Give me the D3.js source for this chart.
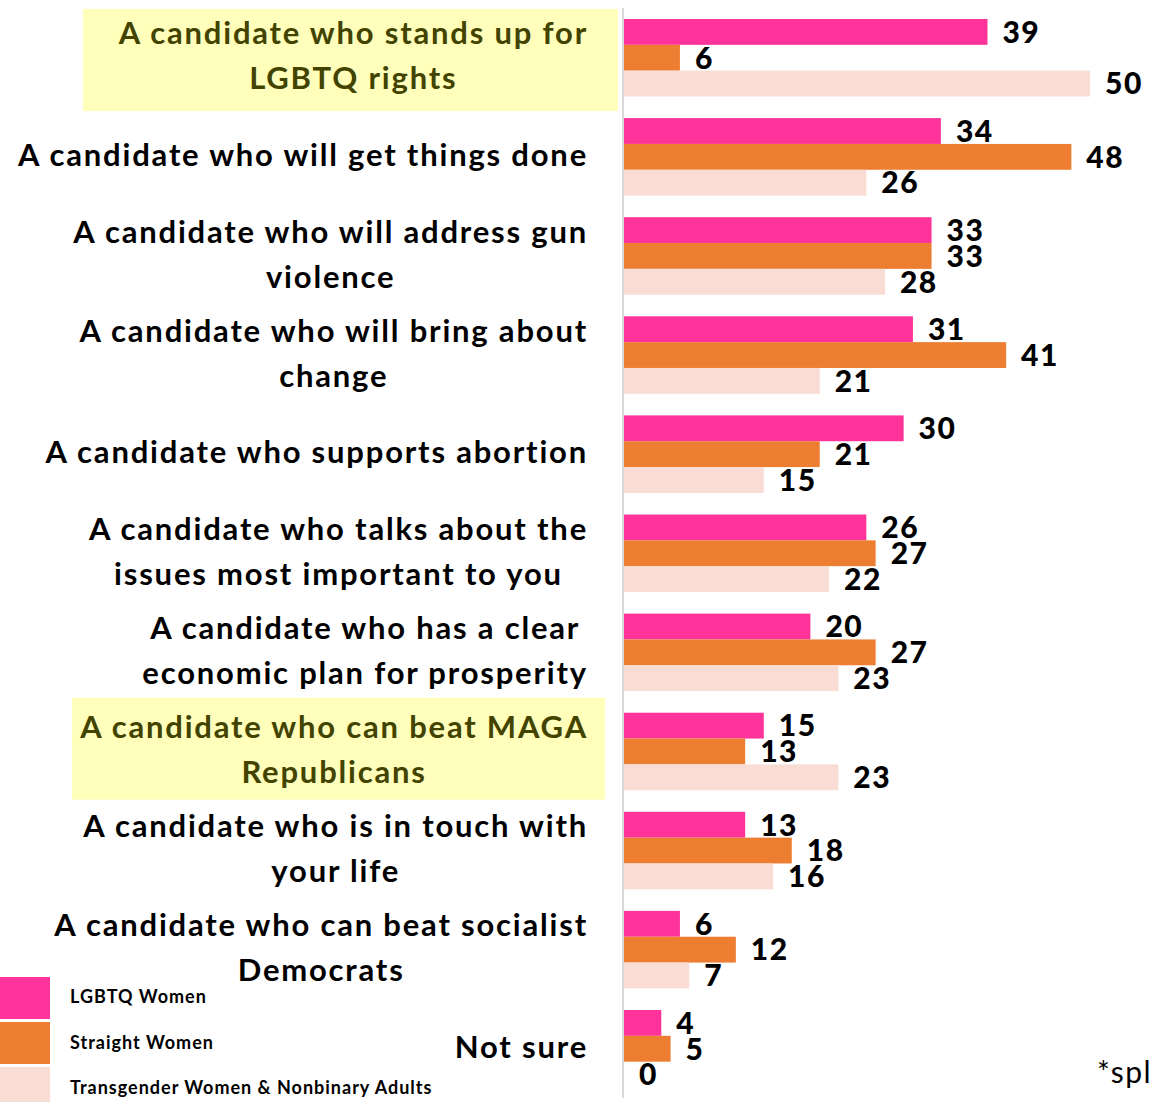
<!DOCTYPE html>
<html>
<head>
<meta charset="utf-8">
<script src="https://cdn.jsdelivr.net/npm/d3@7"></script>
<style>
  body { margin: 0; background: #fff; }
  svg { display: block; }
  text { font-family: Lato, "Open Sans", sans-serif; }
</style>
</head>
<body>
<div id="chart"></div>
<script>
// categories, each split in the lines as shown
const categories = [
  ["A candidate who stands up for", "LGBTQ rights"],
  ["A candidate who will get things done"],
  ["A candidate who will address gun", "violence"],
  ["A candidate who will bring about", "change"],
  ["A candidate who supports abortion"],
  ["A candidate who talks about the", "issues most important to you"],
  ["A candidate who has a clear", "economic plan for prosperity"],
  ["A candidate who can beat MAGA", "Republicans"],
  ["A candidate who is in touch with", "your life"],
  ["A candidate who can beat socialist", "Democrats"],
  ["Not sure"]
];
const highlighted = [0, 7];

const seriesNames = ["LGBTQ Women", "Straight Women", "Transgender Women & Nonbinary Adults"];
const seriesColors = ["#ff3399", "#ed7d31", "#f9dcd4"];

const lgbtqWomen    = [39, 34, 33, 31, 30, 26, 20, 15, 13, 6, 4];
const straightWomen = [6, 48, 33, 41, 21, 27, 27, 13, 18, 12, 5];
const transNonbin   = [50, 26, 28, 21, 15, 22, 23, 23, 16, 7, 0];
const seriesValues = [lgbtqWomen, straightWomen, transNonbin];

const footnote = "*split sample";

const width = 1153, height = 1102;

const svg = d3.select("#chart").append("svg")
  .attr("width", width)
  .attr("height", height);

const idx = d3.range(categories.length);

const x = d3.scaleLinear().domain([0, 50]).range([624, 1090]);
const y = d3.scaleBand().domain(idx).range([19, 1087.5]).paddingInner(0.218).paddingOuter(0);
const ys = d3.scaleBand().domain(d3.range(3)).range([0, y.bandwidth()]);

// highlight boxes behind two labels
const boxes = { 0: [83, 618], 7: [72, 605] };
highlighted.forEach(i => {
  svg.append("rect")
    .attr("x", boxes[i][0])
    .attr("y", y(i) - (i === 0 ? 10 : 15))
    .attr("width", boxes[i][1] - boxes[i][0])
    .attr("height", 102)
    .attr("fill", "#ffffbb");
});

// axis line
svg.append("line")
  .attr("x1", x(0) - 1).attr("x2", x(0) - 1)
  .attr("y1", 8).attr("y2", 1098)
  .attr("stroke", "#d9d9d9")
  .attr("stroke-width", 2);

// bars
const groups = svg.selectAll("g.grp")
  .data(idx)
  .join("g")
  .attr("class", "grp")
  .attr("transform", i => `translate(0,${y(i)})`);

groups.selectAll("rect")
  .data(i => seriesValues.map((s, k) => ({ k, v: s[i] })))
  .join("rect")
  .attr("x", x(0))
  .attr("y", d => ys(d.k))
  .attr("width", d => x(d.v) - x(0))
  .attr("height", ys.bandwidth())
  .attr("fill", d => seriesColors[d.k]);

groups.selectAll("text.val")
  .data(i => seriesValues.map((s, k) => ({ k, v: s[i] })))
  .join("text")
  .attr("class", "val")
  .attr("x", d => x(d.v) + 15)
  .attr("y", d => ys(d.k) + ys.bandwidth() / 2)
  .attr("dy", "0.36em")
  .attr("font-size", 30)
  .attr("font-weight", 900)
  .attr("letter-spacing", 1.5)
  .attr("fill", "#000")
  .text(d => d.v);

// category labels: block right-aligned, lines centred within it
const labelRight = 588, lineH = 45;
idx.forEach(i => {
  const lines = categories[i];
  const g = svg.append("g");
  const cy = y(i) + y.bandwidth() / 2 - 2;
  const t = g.selectAll("text")
    .data(lines)
    .join("text")
    .attr("font-size", 31)
    .attr("font-weight", "bold")
    .attr("letter-spacing", 1.8)
    .attr("fill", highlighted.includes(i) ? "#434300" : "#000")
    .attr("text-anchor", "middle")
    .attr("y", (d, j) => cy + (j - (lines.length - 1) / 2) * lineH)
    .attr("dy", "0.36em")
    .text(d => d);
  const maxW = d3.max(t.nodes(), n => n.getComputedTextLength());
  t.attr("x", labelRight - maxW / 2);
});

// legend
const legend = svg.append("g");
seriesNames.forEach((name, k) => {
  legend.append("rect")
    .attr("x", 0).attr("y", 977 + k * 45)
    .attr("width", 50).attr("height", 42)
    .attr("fill", seriesColors[k]);
  legend.append("text")
    .attr("x", 70).attr("y", 997 + k * 45.5)
    .attr("dy", "0.36em")
    .attr("font-size", 18)
    .attr("font-weight", "bold")
    .attr("letter-spacing", 1)
    .text(name);
});

svg.append("text")
  .attr("x", 1097).attr("y", 1083)
  .attr("font-size", 30)
  .attr("letter-spacing", 1.5)
  .text(footnote);
</script>
</body>
</html>
